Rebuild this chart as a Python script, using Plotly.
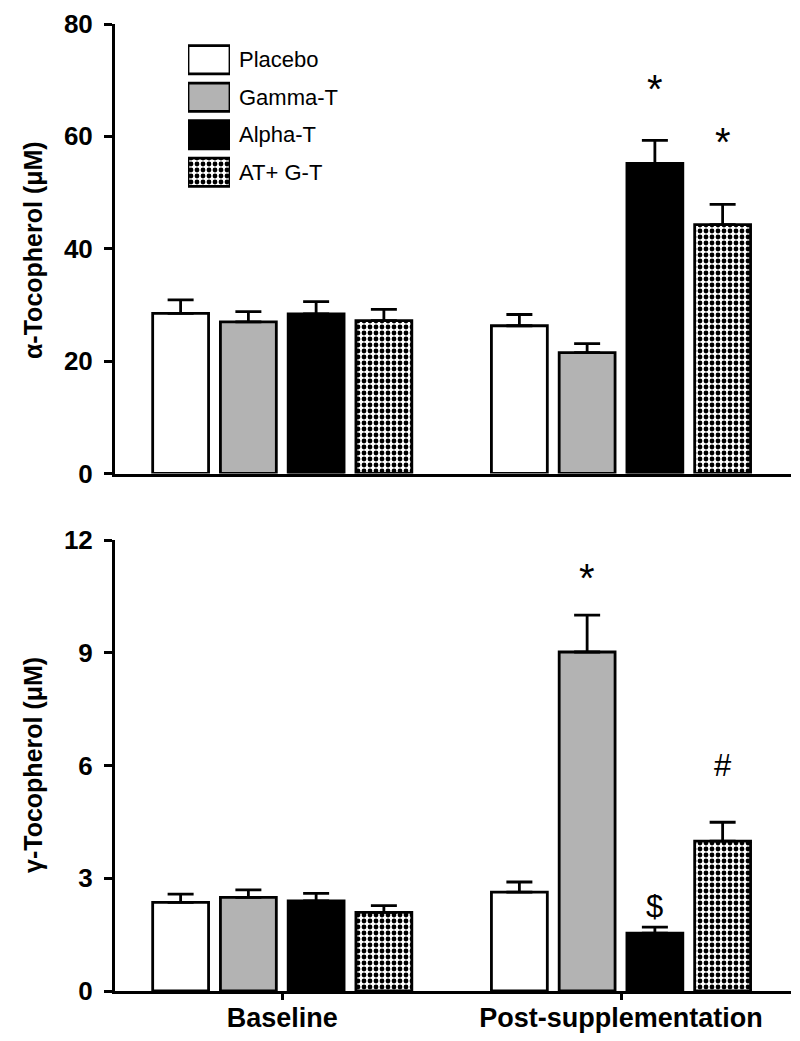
import plotly.graph_objects as go

# ---------------- data ----------------
groups = ["Baseline", "Post-supplementation"]
series = ["Placebo", "Gamma-T", "Alpha-T", "AT+ G-T"]

alpha_toc = {
    "Placebo": [28.5, 26.3],
    "Gamma-T": [27.0, 21.5],
    "Alpha-T": [28.4, 55.2],
    "AT+ G-T": [27.2, 44.3],
}
alpha_err = {
    "Placebo": [2.4, 2.0],
    "Gamma-T": [1.8, 1.6],
    "Alpha-T": [2.2, 4.1],
    "AT+ G-T": [2.0, 3.6],
}
gamma_toc = {
    "Placebo": [2.36, 2.63],
    "Gamma-T": [2.49, 9.02],
    "Alpha-T": [2.40, 1.54],
    "AT+ G-T": [2.09, 3.99],
}
gamma_err = {
    "Placebo": [0.22, 0.27],
    "Gamma-T": [0.20, 0.98],
    "Alpha-T": [0.20, 0.16],
    "AT+ G-T": [0.18, 0.50],
}
# significance marks: (panel, group index, series, label, y value)
marks = [
    ("top", 1, "Alpha-T", "*", 68.5),
    ("top", 1, "AT+ G-T", "*", 59.0),
    ("bottom", 1, "Gamma-T", "*", 11.0),
    ("bottom", 1, "Alpha-T", "$", 2.25),
    ("bottom", 1, "AT+ G-T", "#", 6.0),
]

top_ticks = [0, 20, 40, 60, 80]
bottom_ticks = [0, 3, 6, 9, 12]

# ---------------- styles ----------------
FONT = "Liberation Sans, Arial, Helvetica, sans-serif"
fills = {"Placebo": "#ffffff", "Gamma-T": "#b3b3b3", "Alpha-T": "#000000", "AT+ G-T": "#ffffff"}
SLOT = 0.2
BAR_W = 0.165

W, H = 800, 1041
OFF = 8  # page body margin of the html page
x0_px, x1_px = 115 - OFF, 791 - OFF
top_px = (24 - OFF, 473.5 - OFF)
bot_px = (540 - OFF, 991 - OFF)


def make_marker(s):
    m = dict(color=fills[s], line=dict(color="#000000", width=2.8))
    if s == "AT+ G-T":
        m["pattern"] = dict(shape=".", fgcolor="#000000", bgcolor="#ffffff",
                            size=6, solidity=0.5, fillmode="replace")
    return m


def xpos(i):
    return [g + (i - 1.5) * SLOT for g in range(len(groups))]


fig = go.Figure()

for panel, vals, errs, xa, ya in [
    ("top", alpha_toc, alpha_err, "x", "y"),
    ("bottom", gamma_toc, gamma_err, "x2", "y2"),
]:
    for i, s in enumerate(series):
        fig.add_trace(go.Bar(
            x=xpos(i), y=vals[s], width=BAR_W, name=s, marker=make_marker(s),
            error_y=dict(type="data", array=errs[s], arrayminus=[0] * len(groups),
                         symmetric=False, color="#000000", thickness=2.8, width=13),
            xaxis=xa, yaxis=ya, showlegend=False,
        ))

# legend drawn as a small bar panel
for s in series:
    fig.add_trace(go.Bar(
        y=[s], x=[1], orientation="h", marker=make_marker(s),
        xaxis="x3", yaxis="y3", showlegend=False, hoverinfo="skip",
    ))

# significance annotations
for panel, gi, s, label, yv in marks:
    i = series.index(s)
    xref, yref = ("x", "y") if panel == "top" else ("x2", "y2")
    size = 40 if label == "*" else 31
    fig.add_annotation(x=xpos(i)[gi], y=yv, xref=xref, yref=yref, text=label,
                       showarrow=False, font=dict(family=FONT, size=size, color="#000000"),
                       xanchor="center", yanchor="middle")

# y axis titles
for txt, yc in [("<b>α-Tocopherol (μM)</b>", 250), ("<b>γ-Tocopherol (μM)</b>", 765)]:
    fig.add_annotation(x=(33 - OFF) / W, y=1 - (yc - OFF) / H, xref="paper", yref="paper", text=txt,
                       textangle=-90, showarrow=False, xanchor="center", yanchor="middle",
                       font=dict(family=FONT, size=25, color="#000"))

px_per_unit = (621 - 282.25)
xr = [-(282.25 - 115) / px_per_unit, 1 + (791 - 621) / px_per_unit]
xdom = [x0_px / W, x1_px / W]

common_x = dict(range=xr, domain=xdom, showgrid=False, zeroline=False, showline=True,
                linecolor="#000", linewidth=3, fixedrange=True, automargin=False)
common_y = dict(showgrid=False, zeroline=False, showline=True, linecolor="#000", linewidth=3,
                ticks="outside", ticklen=8, tickwidth=3, tickcolor="#000",
                tickfont=dict(family=FONT, size=26, color="#000", weight="bold"),
                ticklabelstandoff=6, automargin=False, fixedrange=True)

fig.update_layout(
    width=W, height=H, margin=dict(l=0, r=0, t=0, b=0, autoexpand=False),
    paper_bgcolor="#ffffff", plot_bgcolor="#ffffff",
    barmode="overlay", showlegend=False,
    xaxis=dict(**common_x, anchor="y", showticklabels=False, ticks=""),
    yaxis=dict(**common_y, anchor="x", range=[0, 80], tickvals=top_ticks,
               domain=[1 - top_px[1] / H, 1 - top_px[0] / H]),
    xaxis2=dict(**common_x, anchor="y2", tickvals=[0, 1], ticktext=groups, ticks="outside",
                ticklen=6, tickwidth=2.5, tickcolor="#000", ticklabelstandoff=-5,
                tickfont=dict(family=FONT, size=27, color="#000", weight="bold")),
    yaxis2=dict(**common_y, anchor="x2", range=[0, 12], tickvals=bottom_ticks,
                domain=[1 - bot_px[1] / H, 1 - bot_px[0] / H]),
    xaxis3=dict(domain=[(188 - OFF) / W, (230 - OFF) / W], range=[0, 1], visible=False, anchor="y3",
                fixedrange=True, automargin=False),
    yaxis3=dict(domain=[1 - (191 - OFF) / H, 1 - (41 - OFF) / H], anchor="x3", side="right",
                autorange="reversed", showline=False, showgrid=False, zeroline=False, ticks="",
                tickfont=dict(family=FONT, size=22, color="#000"), ticklabelstandoff=8,
                fixedrange=True, automargin=False),
    bargap=0.25,
)

fig.write_html("out.html")
